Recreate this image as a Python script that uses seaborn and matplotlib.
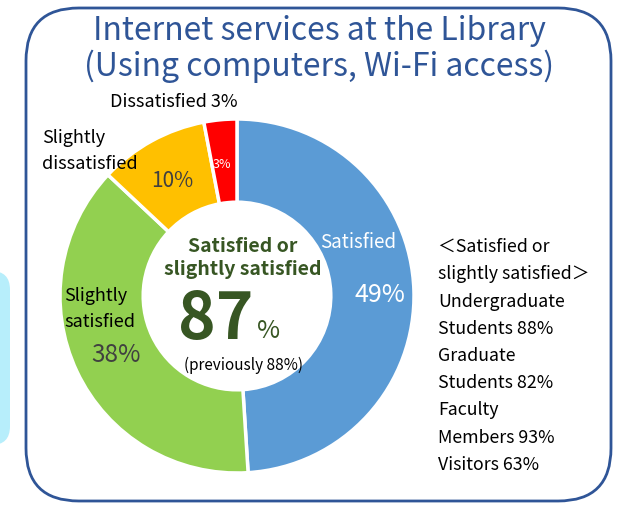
import seaborn as sns
import matplotlib.pyplot as plt
from matplotlib.patches import FancyBboxPatch

# data
labels = ["Satisfied", "Slightly satisfied", "Slightly dissatisfied", "Dissatisfied"]
values = [49, 38, 10, 3]
colors = ["#5B9BD5", "#92D050", "#FFC000", "#FF0000"]
groups = ["Undergraduate\nStudents", "Graduate\nStudents", "Faculty\nMembers", "Visitors"]
group_values = [88, 82, 93, 63]
total_now = 87
total_prev = 88

sns.set_theme(style="white")
plt.rcParams["font.family"] = ["Noto Sans CJK JP", "DejaVu Sans"]

W, H = 621, 506
fig = plt.figure(figsize=(W / 100, H / 100), dpi=100)


def px(x, y):
    return x / W, 1 - y / H


# background frame
frame = FancyBboxPatch(px(26, 502), (611 - 26) / W, (502 - 9) / H,
                       boxstyle="round,pad=0,rounding_size=0.085",
                       transform=fig.transFigure, fill=False,
                       edgecolor="#2F5597", linewidth=2, mutation_aspect=W / H)
fig.patches.append(frame)
side = FancyBboxPatch(px(-20, 446), 30 / W, 174 / H,
                      boxstyle="round,pad=0,rounding_size=0.03",
                      transform=fig.transFigure, facecolor="#B7EEFB",
                      edgecolor="none", mutation_aspect=W / H)
fig.patches.append(side)

# donut
cx, cy, r = 237, 297, 177
ax = fig.add_axes([(cx - r) / W, (H - cy - r) / H, 2 * r / W, 2 * r / H])
ax.pie(values, colors=colors, startangle=90, counterclock=False, radius=1,
       wedgeprops=dict(width=0.47, edgecolor="white", linewidth=2.5))
ax.set_xlim(-1, 1)
ax.set_ylim(-1, 1)
ax.axis("off")

# title
fig.text(*px(319, 31), "Internet services at the Library", ha="center", va="center",
         fontsize=23, color="#2F5597")
fig.text(*px(319, 66), "(Using computers, Wi-Fi access)", ha="center", va="center",
         fontsize=23, color="#2F5597")

# slice labels
fig.text(*px(358, 243), labels[0], ha="center", va="center", fontsize=13.5, color="white")
fig.text(*px(380, 295), f"{values[0]}%", ha="center", va="center", fontsize=18, color="white")
fig.text(*px(64, 309), "Slightly\nsatisfied", ha="left", va="center", fontsize=13,
         color="black", linespacing=1.55)
fig.text(*px(116, 355), f"{values[1]}%", ha="center", va="center", fontsize=17.5, color="#404040")
fig.text(*px(42, 151), "Slightly\ndissatisfied", ha="left", va="center", fontsize=13,
         color="black", linespacing=1.55)
fig.text(*px(172, 181), f"{values[2]}%", ha="center", va="center", fontsize=15, color="#404040")
fig.text(*px(110, 102), f"{labels[3]} {values[3]}%", ha="left", va="center",
         fontsize=13, color="black")
fig.text(*px(222, 165), f"{values[3]}%", ha="center", va="center", fontsize=9, color="white")

# center text
fig.text(*px(243, 258), "Satisfied or\nslightly satisfied", ha="center", va="center",
         fontsize=14, fontweight="bold", color="#375623", linespacing=1.3)
fig.text(*px(216, 320), f"{total_now}", ha="center", va="center", fontsize=46,
         fontweight="bold", color="#375623")
fig.text(*px(269, 331), "%", ha="center", va="center", fontsize=18, color="#375623")
fig.text(*px(243, 365), f"(previously {total_prev}%)", ha="center", va="center",
         fontsize=11, color="black")

# right side breakdown
lines = ["＜Satisfied or", "slightly satisfied＞"]
for g, v in zip(groups, group_values):
    lines.append(f"{g} {v}%")
fig.text(*px(438, 356), "\n".join(lines), ha="left", va="center", fontsize=12.8,
         color="black", linespacing=1.66)

fig.savefig("out.png", dpi=100)
